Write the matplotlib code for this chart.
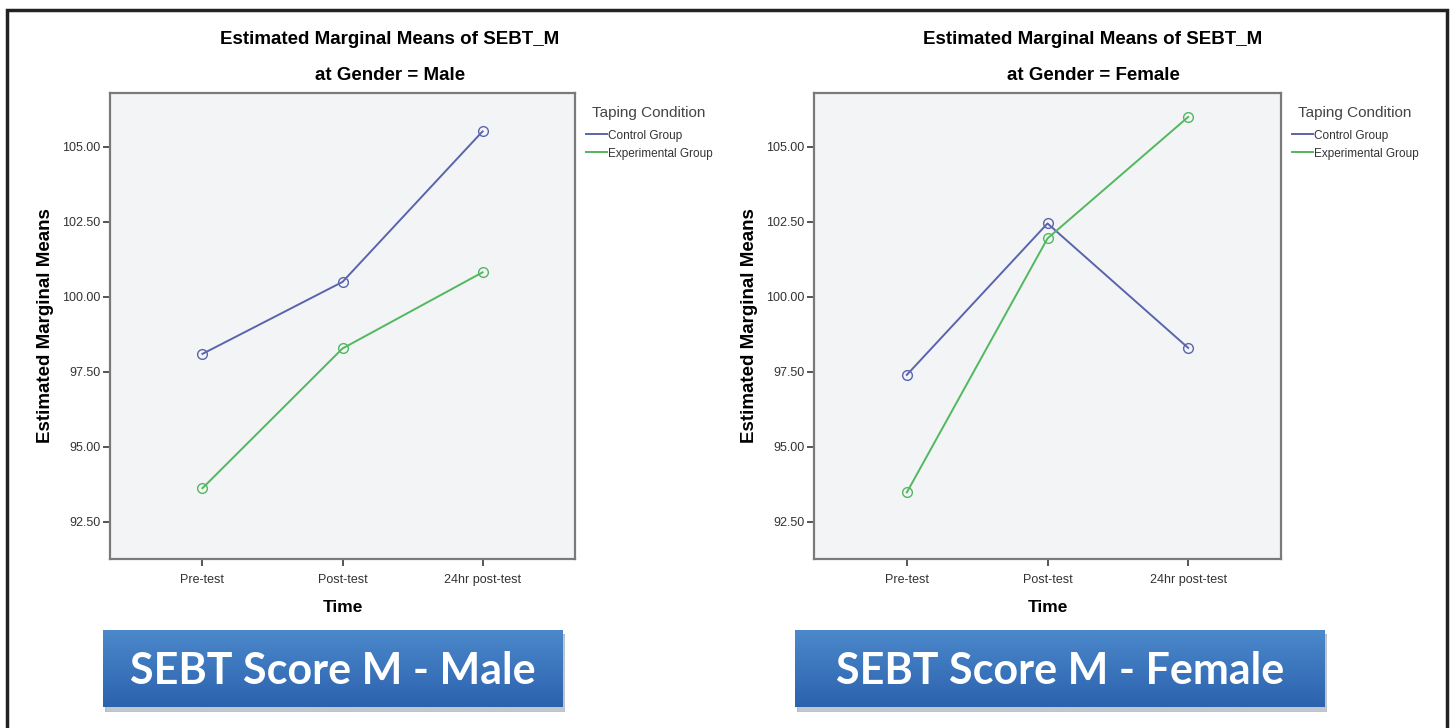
import numpy as np
import matplotlib
matplotlib.use("Agg")
import matplotlib.pyplot as plt
from matplotlib.lines import Line2D
from matplotlib.patches import Rectangle

# --- data ---
times = ["Pre-test", "Post-test", "24hr post-test"]
groups = ["Control Group", "Experimental Group"]
male_control = [98.10, 100.50, 105.52]
male_exp = [93.62, 98.28, 100.82]
female_control = [97.40, 102.45, 98.30]
female_exp = [93.48, 101.95, 106.00]
y_ticks = [92.5, 95.0, 97.5, 100.0, 102.5, 105.0]
panel_genders = ["Male", "Female"]
banner_texts = ["SEBT Score M - Male", "SEBT Score M - Female"]

W, H = 1452, 728
fig = plt.figure(figsize=(W / 100, H / 100), dpi=100)
fig.patch.set_facecolor("white")

ARIAL = ["Liberation Sans", "DejaVu Sans"]
col_ctrl = "#5a64ad"
col_exp = "#52b85e"


def px(x0, y0, x1, y1):
    """pixel box (top-left origin) -> figure fraction [l, b, w, h]"""
    return [x0 / W, 1 - y1 / H, (x1 - x0) / W, (y1 - y0) / H]


# outer frame
fig.add_artist(Rectangle((7 / W, -0.05), (1447 - 7) / W, 1.05 - 10 / H,
                         transform=fig.transFigure, fill=False,
                         edgecolor="#222222", linewidth=2.5))

panels = [
    (px(110, 93, 575, 559), male_control, male_exp, 390),
    (px(814, 93, 1281, 559), female_control, female_exp, 1093),
]

x = np.arange(len(times))
for (rect, ctrl, exp, cx), gender in zip(panels, panel_genders):
    ax = fig.add_axes(rect)
    ax.set_facecolor("#f3f4f6")
    ax.plot(x, ctrl, color=col_ctrl, lw=1.4, marker="o", ms=7,
            mfc="none", mec=col_ctrl, mew=1.0)
    ax.plot(x, exp, color=col_exp, lw=1.4, marker="o", ms=7,
            mfc="none", mec=col_exp, mew=1.0)
    ax.set_xlim(-0.66, 2.66)
    ax.set_ylim(91.26, 106.8)
    ax.set_xticks(x)
    ax.set_xticklabels(times, family=ARIAL, fontsize=9, color="#333333")
    ax.set_yticks(y_ticks)
    ax.set_yticklabels([f"{v:.2f}" for v in y_ticks], family=ARIAL,
                       fontsize=9, color="#333333")
    ax.tick_params(axis="y", length=5, width=1.4, color="#555555", pad=2)
    ax.tick_params(axis="x", length=5, width=1.4, color="#555555", pad=6)
    for s in ax.spines.values():
        s.set_color("#7a7a7a")
        s.set_linewidth(1.6)
    ax.set_ylabel("Estimated Marginal Means", family=ARIAL, fontsize=13.5,
                  fontweight="bold", labelpad=6)
    ax.set_xlabel("Time", family=ARIAL, fontsize=12.5, fontweight="bold",
                  labelpad=10)

    fig.text(cx / W, 1 - 40 / H, "Estimated Marginal Means of SEBT_M",
             family=ARIAL, fontsize=13.5, fontweight="bold",
             ha="center", va="center")
    fig.text(cx / W, 1 - 76 / H, f"at Gender = {gender}",
             family=ARIAL, fontsize=13.5, fontweight="bold",
             ha="center", va="center")

    handles = [Line2D([], [], color=col_ctrl, lw=1.4),
               Line2D([], [], color=col_exp, lw=1.4)]
    leg = ax.legend(handles, groups, title="Taping Condition",
                    loc="upper left", bbox_to_anchor=(1.01, 0.985),
                    frameon=False, handlelength=1.8,
                    handletextpad=0.1, labelspacing=0.5, borderpad=0,
                    prop={"family": ARIAL, "size": 8.5})
    leg.get_title().set_family(ARIAL)
    leg.get_title().set_fontsize(11)
    leg.get_title().set_color("#444444")
    leg._legend_box.sep = 7
    for t in leg.get_texts():
        t.set_color("#333333")

# blue banners with a soft shadow
banners = [(103, 630, 563, 707), (795, 630, 1325, 707)]
grad = np.linspace(0, 1, 64).reshape(-1, 1)
for (x0, y0, x1, y1), label in zip(banners, banner_texts):
    sh = fig.add_axes(px(x0 + 2, y0 + 4, x1 + 2, y1 + 5))
    sh.set_axis_off()
    sh.add_patch(Rectangle((0, 0), 1, 1, color="#9aa3b0", alpha=0.6))
    bax = fig.add_axes(px(x0, y0, x1, y1))
    bax.set_axis_off()
    bax.imshow(grad, aspect="auto", extent=(0, 1, 0, 1),
               cmap=matplotlib.colors.LinearSegmentedColormap.from_list(
                   "b", ["#4c88cc", "#2b63ad"]))
    bax.set_xlim(0, 1)
    bax.set_ylim(0, 1)
    bax.text(0.5, 0.47, label, color="white", fontsize=31,
             fontweight="bold", family=["Lato", "Open Sans", "DejaVu Sans"],
             ha="center", va="center", transform=bax.transAxes)

fig.savefig("out.png", dpi=100, facecolor="white")
